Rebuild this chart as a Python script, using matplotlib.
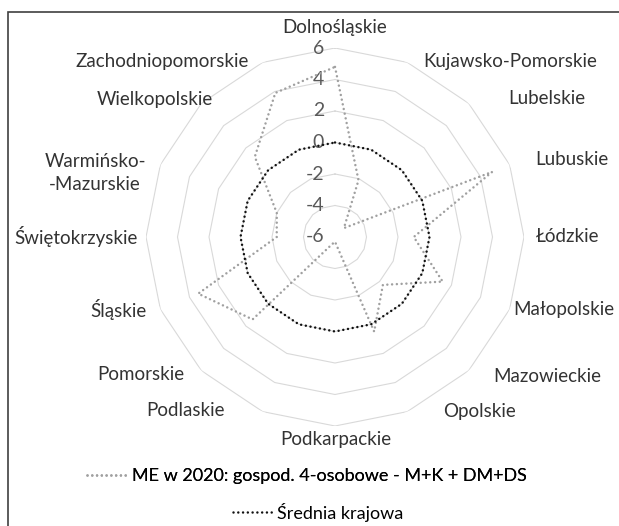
import numpy as np
import matplotlib
matplotlib.use('Agg')
import matplotlib.pyplot as plt
from matplotlib.lines import Line2D
from matplotlib.patches import Rectangle
from matplotlib.transforms import offset_copy

plt.rcParams['font.family'] = ['Lato', 'DejaVu Sans']

regions = ['Dolnośląskie', 'Kujawsko-Pomorskie', 'Lubelskie', 'Lubuskie', 'Łódzkie',
           'Małopolskie', 'Mazowieckie', 'Opolskie', 'Podkarpackie', 'Podlaskie',
           'Pomorskie', 'Śląskie', 'Świętokrzyskie', 'Warmińsko-\n-Mazurskie',
           'Wielkopolskie', 'Zachodniopomorskie']
me_2020 = [4.8, -2.1, -5.2, 4.8, -1.0, 1.4, -1.7, 0.5, -5.7, -5.5, 1.4, 3.4, -2.3, -2.0, 1.2, 3.9]
srednia = [0.0] * 16
r_ticks = [-6, -4, -2, 0, 2, 4, 6]
series_names = ['ME w 2020: gospod. 4-osobowe - M+K + DM+DS', 'Średnia krajowa']

# pozycje etykiet (px od lewego górnego rogu), jak w Excelu
label_px = [(335, 28), (510, 62), (547, 99), (572, 160), (568, 237), (564, 310),
            (547, 376), (480, 411), (336, 440), (186, 411), (141, 374), (118, 310),
            (76, 236), (95, 173), (155, 99), (162, 62)]

W, H = 619, 526
fig = plt.figure(figsize=(W / 100, H / 100), dpi=100)
cx, cy, R = 335, 237, 189
ax = fig.add_axes([(cx - R) / W, 1 - (cy + R) / H, 2 * R / W, 2 * R / H], projection='polar')
ax.set_theta_zero_location('N')
ax.set_theta_direction(-1)
ax.set_ylim(-6, 6)
ax.grid(False)
ax.spines['polar'].set_visible(False)
ax.set_xticks([])
ax.set_yticks([])
ax.patch.set_alpha(0)

theta = np.linspace(0, 2 * np.pi, len(regions), endpoint=False)
theta_c = np.append(theta, theta[0])

# siatka wielokątna
for v in r_ticks[1:]:
    ax.plot(theta_c, [v] * len(theta_c), color='#d9d9d9', lw=0.8, zorder=1)

tr = offset_copy(ax.transData, fig=fig, x=-11, y=0, units='dots')
for v in r_ticks:
    ax.text(0, v, str(v), transform=tr, ha='right', va='center', fontsize=14, color='#595959')

dot = dict(linestyle=(0, (0.01, 1.9)), dash_capstyle='round', lw=1.8)
ax.plot(theta_c, np.append(me_2020, me_2020[0]), color='#a0a0a0', zorder=3, **dot)
ax.plot(theta_c, np.append(srednia, srednia[0]), color='#111111', zorder=4, **dot)

for name, (x, y) in zip(regions, label_px):
    fig.text(x / W, 1 - y / H, name, ha='center', va='center', fontsize=13.5,
             color='#333333', linespacing=1.4)

h1 = Line2D([], [], color='#a0a0a0', **dot)
h2 = Line2D([], [], color='#111111', **dot)
leg_kw = dict(loc='center', frameon=False, fontsize=13, handlelength=2.3,
              handletextpad=0.15, borderpad=0)
leg1 = fig.legend([h1], [series_names[0]], bbox_to_anchor=(307 / W, 1 - 476 / H), **leg_kw)
fig.add_artist(leg1)
fig.legend([h2], [series_names[1]], bbox_to_anchor=(318 / W, 1 - 512 / H), **leg_kw)

fig.add_artist(Rectangle((8 / W, -0.1), 1.2, 1.1 - 12 / H, transform=fig.transFigure,
                         fill=False, ec='#404040', lw=1.2))

fig.savefig('out.png', dpi=100)
